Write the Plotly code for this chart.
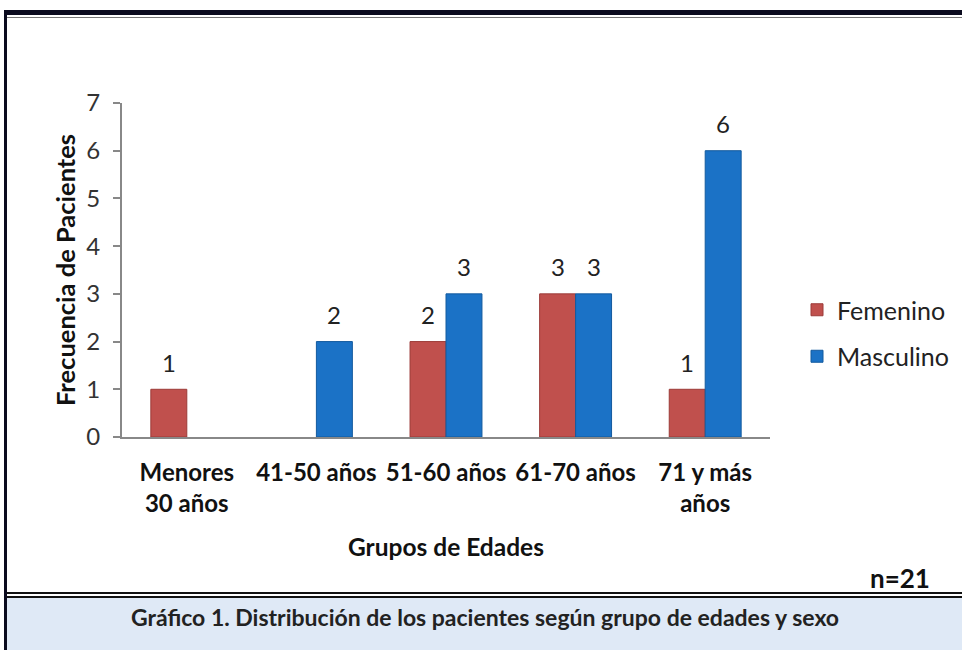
import plotly.graph_objects as go

categories = ["Menores<br>30 años", "41-50 años", "51-60 años", "61-70 años", "71 y más<br>años"]
femenino = [1, None, 2, 3, 1]
masculino = [None, 2, 3, 3, 6]
series_names = ["Femenino", "Masculino"]
y_ticks = [0, 1, 2, 3, 4, 5, 6, 7]

W, H = 962, 650
L, R, T, B = 122, 192, 103, 213
PW, PH = W - L - R, H - T - B

def px(x):
    return (x - L) / PW

def py(y):
    return (H - B - y) / PH

FONT = "Lato, 'Open Sans', sans-serif"
RED = "#c0504d"
BLUE = "#1b72c6"

fig = go.Figure()
fig.add_trace(go.Bar(name=series_names[0], x=categories, y=femenino,
                     marker=dict(color=RED, line=dict(color="#9c3b38", width=1)),
                     legendgroup="f"))
fig.add_trace(go.Bar(name=series_names[1], x=categories, y=masculino,
                     marker=dict(color=BLUE, line=dict(color="#135a9e", width=1)),
                     legendgroup="m"))

# data labels
for vals, shift in ((femenino, -18), (masculino, 18)):
    for c, v in zip(categories, vals):
        if v is None:
            continue
        fig.add_annotation(x=c, y=v, text=str(v), showarrow=False, xshift=shift, yshift=27,
                           xanchor="center", yanchor="middle",
                           font=dict(family=FONT, size=24, color="#222"))

shapes = []
# caption background
shapes.append(dict(type="rect", xref="paper", yref="paper", x0=px(7), x1=px(962), y0=py(650), y1=py(598),
                   fillcolor="#dfe9f6", line=dict(width=0), layer="below"))
# top border
shapes.append(dict(type="rect", xref="paper", yref="paper", x0=px(4), x1=px(962), y0=py(15), y1=py(10),
                   fillcolor="#0b0b1e", line=dict(width=0)))
shapes.append(dict(type="rect", xref="paper", yref="paper", x0=px(7), x1=px(962), y0=py(18), y1=py(17),
                   fillcolor="#777777", line=dict(width=0)))
# left border
shapes.append(dict(type="rect", xref="paper", yref="paper", x0=px(4), x1=px(7), y0=py(650), y1=py(10),
                   fillcolor="#0b0b1e", line=dict(width=0)))
# bottom double line
shapes.append(dict(type="rect", xref="paper", yref="paper", x0=px(7), x1=px(962), y0=py(594), y1=py(592),
                   fillcolor="#111111", line=dict(width=0)))
shapes.append(dict(type="rect", xref="paper", yref="paper", x0=px(7), x1=px(962), y0=py(598), y1=py(596),
                   fillcolor="#111111", line=dict(width=0)))

fig.add_annotation(xref="paper", yref="paper", x=px(485), y=py(617),
                   xanchor="center", yanchor="middle",
                   text="<b>Gráfico 1. Distribución de los pacientes según grupo de edades y sexo</b>",
                   showarrow=False, font=dict(family=FONT, size=23, color="#222"))
fig.add_annotation(xref="paper", yref="paper", x=px(900), y=py(578),
                   xanchor="center", yanchor="middle", text="<b>n=21</b>",
                   showarrow=False, font=dict(family=FONT, size=26, color="#111"))

fig.update_layout(
    width=W, height=H,
    margin=dict(l=L, r=R, t=T, b=B, autoexpand=False),
    paper_bgcolor="white", plot_bgcolor="white",
    barmode="group", bargap=0.445, bargroupgap=0,
    shapes=shapes,
    showlegend=True,
    legend=dict(x=px(797), y=py(287), xanchor="left", yanchor="top",
                font=dict(family=FONT, size=25, color="#222"),
                tracegroupgap=11, traceorder="grouped", itemwidth=30),
    font=dict(family=FONT, color="#222"),
    xaxis=dict(showline=True, linecolor="#888888", linewidth=2, ticks="", showgrid=False,
               tickfont=dict(family=FONT, size=24, color="#111", weight="bold"),
               ticklabelstandoff=13, automargin=False,
               title=dict(text="<b>Grupos de Edades</b>", font=dict(family=FONT, size=24.5, color="#111"), standoff=23)),
    yaxis=dict(range=[0, 7], tickvals=y_ticks, showline=True, linecolor="#888888", linewidth=2,
               ticks="outside", ticklen=7, tickcolor="#888888", tickwidth=2, showgrid=False, zeroline=False,
               tickfont=dict(family=FONT, size=24, color="#333"), ticklabelstandoff=8, automargin=False,
               title=dict(text="<b>Frecuencia de Pacientes</b>", font=dict(family=FONT, size=25.5, color="#111"), standoff=3)),
)

fig.write_html("out.html")
